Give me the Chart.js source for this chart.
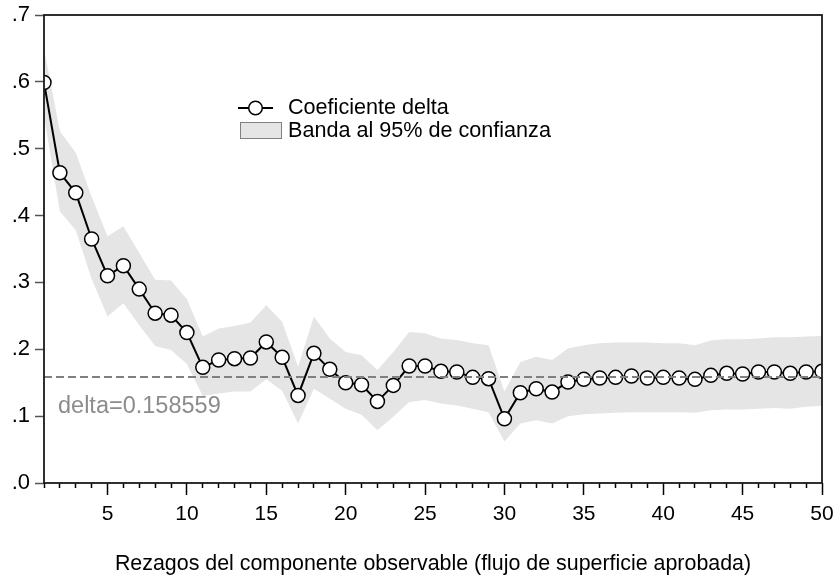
<!DOCTYPE html>
<html>
<head>
<meta charset="utf-8">
<script src="https://cdn.jsdelivr.net/npm/chart.js@4.4.1/dist/chart.umd.min.js"></script>
<style>
  html, body { margin: 0; padding: 0; background: #fff; }
  #wrap { width: 835px; height: 577px; }
</style>
</head>
<body>
<div id="wrap"><canvas id="chart" width="835" height="577"></canvas></div>
<script>
  // Rezagos (lags) and estimates
  const lags = [1, 2, 3, 4, 5, 6, 7, 8, 9, 10, 11, 12, 13, 14, 15, 16, 17, 18, 19, 20,
    21, 22, 23, 24, 25, 26, 27, 28, 29, 30, 31, 32, 33, 34, 35, 36, 37, 38, 39, 40,
    41, 42, 43, 44, 45, 46, 47, 48, 49, 50];

  const coefDelta = [0.599, 0.464, 0.434, 0.365, 0.310, 0.325, 0.290, 0.254, 0.251, 0.225,
    0.173, 0.184, 0.186, 0.187, 0.211, 0.188, 0.131, 0.194, 0.170, 0.150,
    0.147, 0.122, 0.146, 0.175, 0.175, 0.167, 0.166, 0.158, 0.156, 0.096,
    0.135, 0.141, 0.136, 0.151, 0.155, 0.157, 0.158, 0.160, 0.157, 0.158,
    0.157, 0.155, 0.161, 0.164, 0.163, 0.166, 0.166, 0.164, 0.166, 0.167];

  const bandUpper = [0.650, 0.526, 0.494, 0.428, 0.369, 0.384, 0.344, 0.304, 0.303, 0.275,
    0.219, 0.231, 0.235, 0.240, 0.266, 0.241, 0.174, 0.249, 0.216, 0.196,
    0.191, 0.169, 0.196, 0.226, 0.224, 0.216, 0.214, 0.209, 0.206, 0.137,
    0.181, 0.189, 0.184, 0.201, 0.206, 0.209, 0.210, 0.210, 0.210, 0.209,
    0.209, 0.206, 0.213, 0.215, 0.215, 0.216, 0.218, 0.218, 0.219, 0.220];

  const bandLower = [0.548, 0.406, 0.378, 0.305, 0.249, 0.269, 0.236, 0.205, 0.199, 0.178,
    0.130, 0.134, 0.137, 0.137, 0.155, 0.138, 0.089, 0.141, 0.126, 0.111,
    0.102, 0.079, 0.099, 0.121, 0.124, 0.119, 0.116, 0.111, 0.106, 0.062,
    0.089, 0.094, 0.089, 0.100, 0.103, 0.104, 0.105, 0.106, 0.106, 0.106,
    0.106, 0.105, 0.109, 0.110, 0.110, 0.111, 0.112, 0.111, 0.114, 0.115];

  const deltaValue = 0.158559;
  const deltaRange = [1, 50];

  const yTicks = [0, 0.1, 0.2, 0.3, 0.4, 0.5, 0.6, 0.7];
  const xTickLabels = [5, 10, 15, 20, 25, 30, 35, 40, 45, 50];

  const FONT = "'Liberation Sans', Arial, Helvetica, sans-serif";
  const BAND_COLOR = '#e5e5e5';
  const DASH_COLOR = '#808080';

  const toPoints = (ys) => lags.map((x, i) => ({ x: x, y: ys[i] }));

  // Box around the plot region plus legend and the delta note
  const decorations = {
    id: 'decorations',
    afterDraw(chart) {
      const { ctx, chartArea, scales } = chart;
      ctx.save();

      ctx.strokeStyle = '#1a1a1a';
      ctx.lineWidth = 1.8;
      ctx.strokeRect(chartArea.left, chartArea.top,
        chartArea.right - chartArea.left, chartArea.bottom - chartArea.top);

      // delta note
      ctx.fillStyle = '#8c8c8c';
      ctx.font = '23.5px ' + FONT;
      ctx.textBaseline = 'middle';
      ctx.textAlign = 'left';
      ctx.fillText('delta=0.158559', chartArea.left + 14,
        scales.y.getPixelForValue(deltaValue) + 30);

      // legend
      ctx.strokeStyle = '#000';
      ctx.lineWidth = 2;
      ctx.beginPath();
      ctx.moveTo(238, 108);
      ctx.lineTo(273, 108);
      ctx.stroke();
      ctx.lineWidth = 1.5;
      ctx.beginPath();
      ctx.arc(255.5, 108, 6.8, 0, Math.PI * 2);
      ctx.fillStyle = '#fff';
      ctx.fill();
      ctx.stroke();

      ctx.fillStyle = BAND_COLOR;
      ctx.fillRect(240, 122, 41, 16);
      ctx.strokeStyle = '#808080';
      ctx.lineWidth = 1;
      ctx.strokeRect(240.5, 122.5, 41, 16);

      ctx.fillStyle = '#000';
      ctx.font = '21.6px ' + FONT;
      ctx.fillText('Coeficiente delta', 288, 108);
      ctx.fillText('Banda al 95% de confianza', 288, 131);

      ctx.restore();
    },
  };

  new Chart(document.getElementById('chart'), {
    type: 'line',
    data: {
      datasets: [
        {
          label: 'delta',
          data: deltaRange.map((x) => ({ x: x, y: deltaValue })),
          borderColor: DASH_COLOR,
          borderWidth: 2,
          borderDash: [8, 4],
          pointRadius: 0,
          fill: false,
        },
        {
          label: 'Coeficiente delta',
          data: toPoints(coefDelta),
          borderColor: '#000',
          borderWidth: 2,
          pointRadius: 7,
          pointBackgroundColor: '#fff',
          pointBorderColor: '#000',
          pointBorderWidth: 1.5,
          fill: false,
          tension: 0,
        },
        {
          label: 'upper',
          data: toPoints(bandUpper),
          borderWidth: 0,
          pointRadius: 0,
          backgroundColor: BAND_COLOR,
          fill: '+1',
          tension: 0,
        },
        {
          label: 'lower',
          data: toPoints(bandLower),
          borderWidth: 0,
          pointRadius: 0,
          fill: false,
          tension: 0,
        },
      ],
    },
    options: {
      responsive: false,
      animation: false,
      devicePixelRatio: 1,
      layout: { padding: { top: 15, right: 13, left: 0, bottom: 0 } },
      plugins: {
        legend: { display: false },
        tooltip: { enabled: false },
      },
      scales: {
        x: {
          type: 'linear',
          min: 1,
          max: 50,
          afterFit: (scale) => {
            scale.height = 94;
            scale.paddingLeft = 0;
            scale.paddingRight = 0;
          },
          afterBuildTicks: (scale) => {
            scale.ticks = lags.map((v) => ({ value: v }));
          },
          border: { display: false },
          grid: {
            drawOnChartArea: false,
            tickLength: 12,
            tickColor: '#000',
            tickWidth: 1.5,
            tickBorderDash: (ctx) => (xTickLabels.includes(ctx.tick.value) ? [] : [5, 40]),
          },
          ticks: {
            autoSkip: false,
            maxRotation: 0,
            padding: 7,
            color: '#000',
            font: { family: FONT, size: 21 },
            callback: (v) => (xTickLabels.includes(v) ? String(v) : ''),
          },
          title: {
            display: true,
            text: 'Rezagos del componente observable (flujo de superficie aprobada)',
            color: '#000',
            font: { family: FONT, size: 21.4, lineHeight: 1 },
            padding: { top: 0, bottom: 2 },
          },
        },
        y: {
          min: 0,
          max: 0.7,
          afterFit: (scale) => {
            scale.width = 44;
            scale.paddingTop = 0;
            scale.paddingBottom = 0;
          },
          afterBuildTicks: (scale) => {
            scale.ticks = yTicks.map((v) => ({ value: v }));
          },
          border: { display: false },
          grid: {
            drawOnChartArea: false,
            tickLength: 9,
            tickColor: '#555',
            tickWidth: 1.5,
          },
          ticks: {
            padding: 5,
            color: '#000',
            font: { family: FONT, size: 22 },
            callback: (v) => v.toFixed(1).replace(/^0/, ''),
          },
        },
      },
    },
    plugins: [decorations],
  });
</script>
</body>
</html>
